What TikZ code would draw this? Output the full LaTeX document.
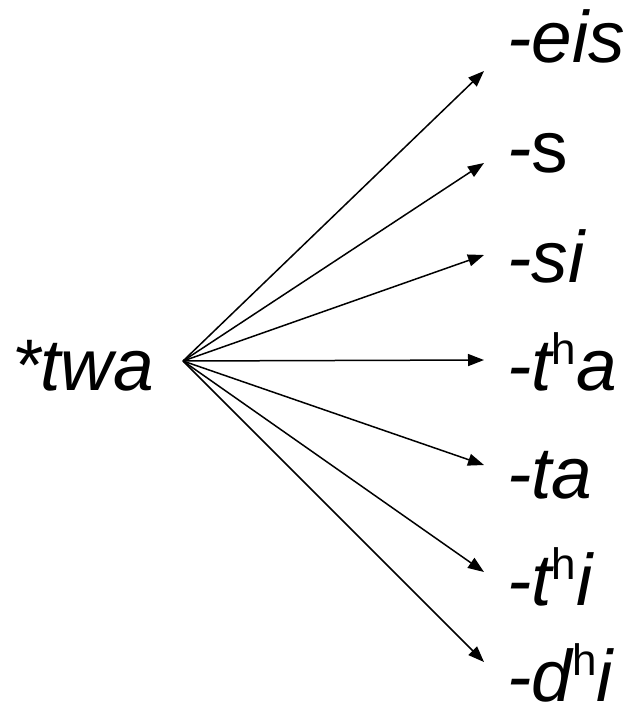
\documentclass[tikz,border=0pt]{standalone}
\usepackage{fontspec}
\setmainfont{Liberation Sans}
\usetikzlibrary{arrows.meta}
\newcommand{\asp}{\raisebox{26pt}{\fontsize{44}{44}\selectfont\upshape h}}
\begin{document}
\begin{tikzpicture}[x=1pt,y=-1pt,
  lbl/.style={anchor=base west,inner sep=0pt,font=\fontsize{73}{88}\selectfont\itshape},
  arr/.style={line width=1.5pt,-{Triangle[length=16pt,width=12pt]}}]
\useasboundingbox (0,0) rectangle (632,715);
\coordinate (src) at (183,361);
\node[lbl] (twa) at (12,390) {*twa};
\node[lbl] (l1) at (507,62) {-eis};
\node[lbl] (l2) at (507,172) {-{\upshape s}};
\node[lbl] (l3) at (507,282) {-si};
\node[lbl] (l4) at (507,390) {-t\asp a};
\node[lbl] (l5) at (507,498) {-ta};
\node[lbl] (l6) at (507,605) {-t\asp i};
\node[lbl] (l7) at (507,701) {-d\asp i};
\coordinate (t1) at (484,71);
\coordinate (t2) at (484,163);
\coordinate (t3) at (484,255);
\coordinate (t4) at (484,360);
\coordinate (t5) at (484,465);
\coordinate (t6) at (484,572);
\coordinate (t7) at (484,662);
\foreach \i in {1,...,7} \draw[arr] (src) -- (t\i);
\end{tikzpicture}
\end{document}
